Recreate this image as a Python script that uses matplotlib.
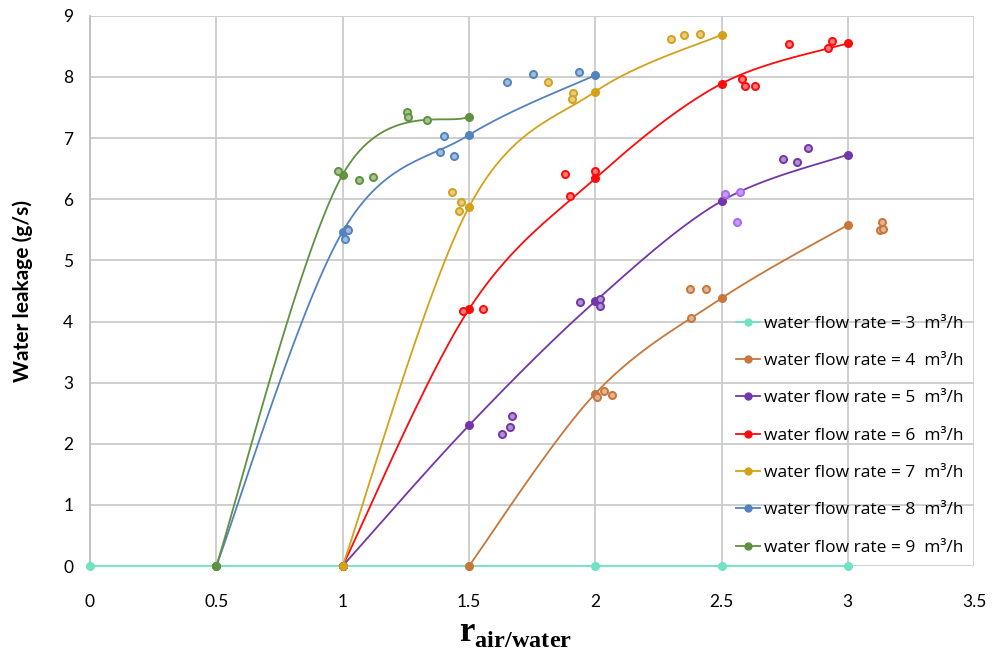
import matplotlib.pyplot as plt
import numpy as np
from matplotlib.colors import to_rgb

plt.rcParams['font.family'] = ['Lato', 'DejaVu Sans']
plt.rcParams['mathtext.fontset'] = 'custom'
plt.rcParams['mathtext.rm'] = 'Liberation Serif:bold'
plt.rcParams['mathtext.bf'] = 'Liberation Serif:bold'

# fitted points (filled markers, smoothed line) for each flow rate
flow_rates = [3, 4, 5, 6, 7, 8, 9]
colors = ['#6fe3c3', '#c8763a', '#7336a8', '#ff0a0a', '#d3a21a', '#5283be', '#5f913f']

fit_x = [
    [0, 0.5, 1, 1.5, 2, 2.5, 3],
    [1.5, 2, 2.5, 3],
    [1, 1.5, 2, 2.5, 3],
    [1, 1.5, 2, 2.5, 3],
    [1, 1.5, 2, 2.5],
    [0.5, 1, 1.5, 2],
    [0.5, 1, 1.5],
]
fit_y = [
    [0, 0, 0, 0, 0, 0, 0],
    [0, 2.82, 4.38, 5.58],
    [0, 2.30, 4.33, 5.97, 6.73],
    [0, 4.20, 6.34, 7.89, 8.55],
    [0, 5.87, 7.76, 8.69],
    [0, 5.47, 7.05, 8.03],
    [0, 6.40, 7.35],
]

# measured points (open markers)
meas_x = [
    [],
    [2.38, 2.375, 2.44, 2.007, 2.033, 2.066, 3.135, 3.126, 3.14],
    [1.63, 1.663, 1.67, 1.94, 2.02, 2.02, 2.745, 2.80, 2.843],
    [1.478, 1.557, 1.88, 2.0, 1.90, 2.58, 2.594, 2.634, 2.766, 2.92, 2.937],
    [1.432, 1.47, 1.459, 1.815, 1.914, 1.907, 2.30, 2.35, 2.416],
    [1.016, 1.02, 1.01, 1.40, 1.386, 1.44, 1.65, 1.755, 1.934],
    [0.983, 1.063, 1.122, 1.254, 1.26, 1.333],
]
meas_y = [
    [],
    [4.05, 4.53, 4.53, 2.76, 2.87, 2.79, 5.62, 5.49, 5.52],
    [2.16, 2.27, 2.46, 4.32, 4.37, 4.26, 6.66, 6.61, 6.83],
    [4.18, 4.21, 6.42, 6.47, 6.06, 7.97, 7.86, 7.86, 8.54, 8.48, 8.59],
    [6.12, 5.95, 5.81, 7.92, 7.73, 7.64, 8.62, 8.68, 8.70],
    [5.52, 5.49, 5.35, 7.04, 6.77, 6.71, 7.91, 8.05, 8.08],
    [6.47, 6.31, 6.36, 7.43, 7.34, 7.29],
]
# a few lighter violet points near r = 2.5
extra_x = [2.515, 2.574, 2.56]
extra_y = [6.09, 6.12, 5.63]

xticks = [0, 0.5, 1, 1.5, 2, 2.5, 3, 3.5]
xtick_labels = ['0', '0.5', '1', '1.5', '2', '2.5', '3', '3.5']
yticks = list(range(10))


def smooth(x, y, n=40):
    # Catmull-Rom style bezier smoothing like spreadsheet "smoothed lines"
    p = np.column_stack([x, y]).astype(float)
    if len(p) < 3:
        return p[:, 0], p[:, 1]
    ext = np.vstack([p[0], p, p[-1]])
    out = []
    t = np.linspace(0, 1, n)[:, None]
    for i in range(1, len(ext) - 2):
        p0, p3 = ext[i], ext[i + 1]
        c1 = p0 + (ext[i + 1] - ext[i - 1]) / 6
        c2 = p3 - (ext[i + 2] - ext[i]) / 6
        seg = (1 - t) ** 3 * p0 + 3 * (1 - t) ** 2 * t * c1 + 3 * (1 - t) * t ** 2 * c2 + t ** 3 * p3
        out.append(seg if i == 1 else seg[1:])
    out = np.vstack(out)
    return out[:, 0], out[:, 1]


def tint(c, f=0.45):
    r, g, b = to_rgb(c)
    return (r + (1 - r) * f, g + (1 - g) * f, b + (1 - b) * f)


fig, ax = plt.subplots(figsize=(9.93, 6.59), dpi=100)
fig.subplots_adjust(left=0.0906, right=0.981, bottom=0.141, top=0.976)

for i, q in enumerate(flow_rates):
    c = colors[i]
    sx, sy = smooth(fit_x[i], fit_y[i])
    ax.plot(sx, sy, color=c, lw=1.3, zorder=3, clip_on=False)
    ax.plot(fit_x[i], fit_y[i], 'o', color=c, ms=5.5, zorder=4, clip_on=False)
    ax.plot([], [], '-o', color=c, lw=1.3, ms=5,
            label='water flow rate = %d  m³/h' % q)
    if meas_x[i]:
        ax.scatter(meas_x[i], meas_y[i], s=26, facecolor=tint(c), edgecolor=c,
                   linewidth=1.4, zorder=4)

ax.scatter(extra_x, extra_y, s=26, facecolor='#c79bff', edgecolor='#a86af5',
           linewidth=1.4, zorder=4)

ax.set_xlim(0, 3.5)
ax.set_ylim(0, 9)
ax.set_xticks(xticks)
ax.set_xticklabels(xtick_labels)
ax.set_yticks(yticks)
ax.tick_params(length=0, labelsize=12.5, colors='black')
ax.tick_params(axis='x', pad=20)
ax.tick_params(axis='y', pad=12)
ax.grid(True, color='#cccccc', lw=1.3)
ax.set_axisbelow(True)
for s in ['top', 'right', 'bottom']:
    ax.spines[s].set_visible(False)
ax.spines['left'].set_color('#bfbfbf')
ax.spines['left'].set_linewidth(1.3)

ax.set_ylabel('Water leakage (g/s)', fontsize=15, fontweight='bold')
ax.yaxis.set_label_coords(-0.064, 0.5)
ax.set_xlabel(r'$\mathbf{r}_{\mathbf{air/water}}$', fontsize=25)
ax.xaxis.set_label_coords(0.481, -0.092)

ax.legend(loc='lower right', bbox_to_anchor=(1.0, 0.0), frameon=False,
          prop={'family': 'Open Sans', 'size': 12.5}, handlelength=1.4,
          handletextpad=0.25, labelspacing=1.22, borderaxespad=0.2)

fig.savefig('out.png', dpi=100)
